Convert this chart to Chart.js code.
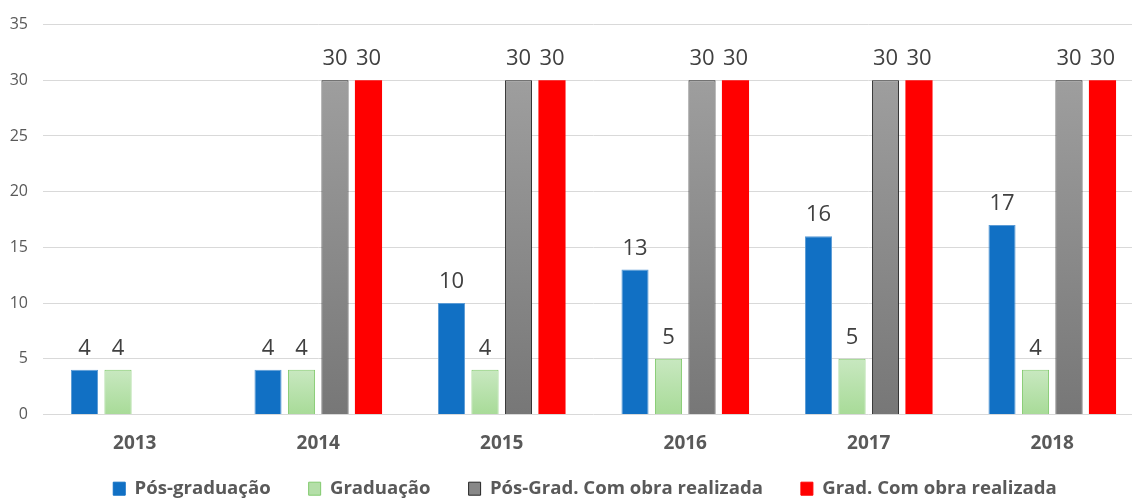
<!DOCTYPE html>
<html><head><meta charset="utf-8">
<script src="https://cdn.jsdelivr.net/npm/chart.js@4/dist/chart.umd.min.js"></script>
<style>
html,body{margin:0;padding:0;overflow:hidden;background:#fff;}
#wrap{width:1144px;height:498px;position:relative;}
</style></head>
<body>
<div id="wrap"><canvas id="c"></canvas></div>
<script>
const categories = ['2013','2014','2015','2016','2017','2018'];
const posGrad = [4, 4, 10, 13, 16, 17];
const grad = [4, 4, 4, 5, 5, 4];
const posGradObra = [null, 30, 30, 30, 30, 30];
const gradObra = [null, 30, 30, 30, 30, 30];
const seriesNames = ['Pós-graduação','Graduação','Pós-Grad. Com obra realizada','Grad. Com obra realizada'];
const yTicks = [0,5,10,15,20,25,30,35];

function barGradient(top, bottom){
  return function(ctx){
    const chart = ctx.chart;
    if (ctx.type !== 'data' || !chart.chartArea) return top;
    const v = ctx.raw;
    if (v == null) return top;
    const y = chart.scales.y;
    const y0 = y.getPixelForValue(v), y1 = y.getPixelForValue(0);
    const g = chart.ctx.createLinearGradient(0, y0, 0, y1);
    g.addColorStop(0, top); g.addColorStop(1, bottom);
    return g;
  };
}

const labelPlugin = {
  id: 'valueLabels',
  afterLayout(chart){
    if (chart.legend){ chart.legend.left += 8; chart.legend.right += 8; }
  },
  beforeDraw(chart){
    if (chart.scales.x) chart.scales.x._computeLabelArea = function(){ return undefined; };
  },
  afterDatasetsDraw(chart){
    const c = chart.ctx;
    c.save();
    c.font = '22px "Open Sans"';
    c.fillStyle = '#404040';
    c.textAlign = 'center';
    c.textBaseline = 'alphabetic';
    chart.data.datasets.forEach((ds, i) => {
      const meta = chart.getDatasetMeta(i);
      meta.data.forEach((bar, j) => {
        const v = ds.data[j];
        if (v == null) return;
        c.fillText(String(v), bar.x, bar.y - 15);
      });
    });
    c.restore();
  }
};

new Chart(document.getElementById('c'), {
  type: 'bar',
  data: {
    labels: categories,
    datasets: [
      {label: seriesNames[0], data: posGrad, backgroundColor: '#1170C4', borderColor: '#5B9BD5', borderWidth: 1},
      {label: seriesNames[1], data: grad, backgroundColor: barGradient('#C8E8C0','#A8DB98'), borderColor: '#82CA6E', borderWidth: 1},
      {label: seriesNames[2], data: posGradObra, backgroundColor: barGradient('#9E9E9E','#777777'), borderColor: '#262626', borderWidth: 1},
      {label: seriesNames[3], data: gradObra, backgroundColor: '#FF0000', borderColor: '#FF0000', borderWidth: 0}
    ]
  },
  options: {
    responsive: true,
    maintainAspectRatio: false,
    animation: false,
    layout: {padding: {top: 13, left: 10, right: 0, bottom: -10}},
    datasets: {bar: {categoryPercentage: 0.73, barPercentage: 0.81}},
    scales: {
      x: {
        grid: {display: false, drawTicks: false},
        border: {display: false},
        ticks: {color: '#595959', font: {family: 'Open Sans', size: 19, weight: 'bold'}, padding: 18},
        afterFit(axis){ axis.height = 27; }
      },
      y: {
        min: 0, max: 35,
        afterBuildTicks(axis){ axis.ticks = yTicks.map(v => ({value: v})); },
        afterFit(axis){ axis.width = 33; },
        grid: {color: '#D9D9D9', lineWidth: 1, drawTicks: false},
        border: {display: false},
        ticks: {color: '#595959', font: {family: 'Open Sans', size: 16}, padding: 15}
      }
    },
    plugins: {
      legend: {
        position: 'bottom',
        labels: {
          color: '#595959',
          font: {family: 'Open Sans', size: 18.6, weight: 'bold'},
          boxWidth: 12, boxHeight: 13, padding: 38,
          generateLabels(chart){
            const fills = ['#1170C4','#B4DFA8','#888888','#FF0000'];
            const strokes = ['#1170C4','#82CA6E','#262626','#FF0000'];
            return chart.data.datasets.map((ds,i) => ({
              text: ds.label, fillStyle: fills[i], strokeStyle: strokes[i], lineWidth: 1,
              fontColor: '#595959', datasetIndex: i, hidden: false
            }));
          }
        }
      },
      tooltip: {enabled: false}
    }
  },
  plugins: [labelPlugin]
});
</script>
</body></html>
